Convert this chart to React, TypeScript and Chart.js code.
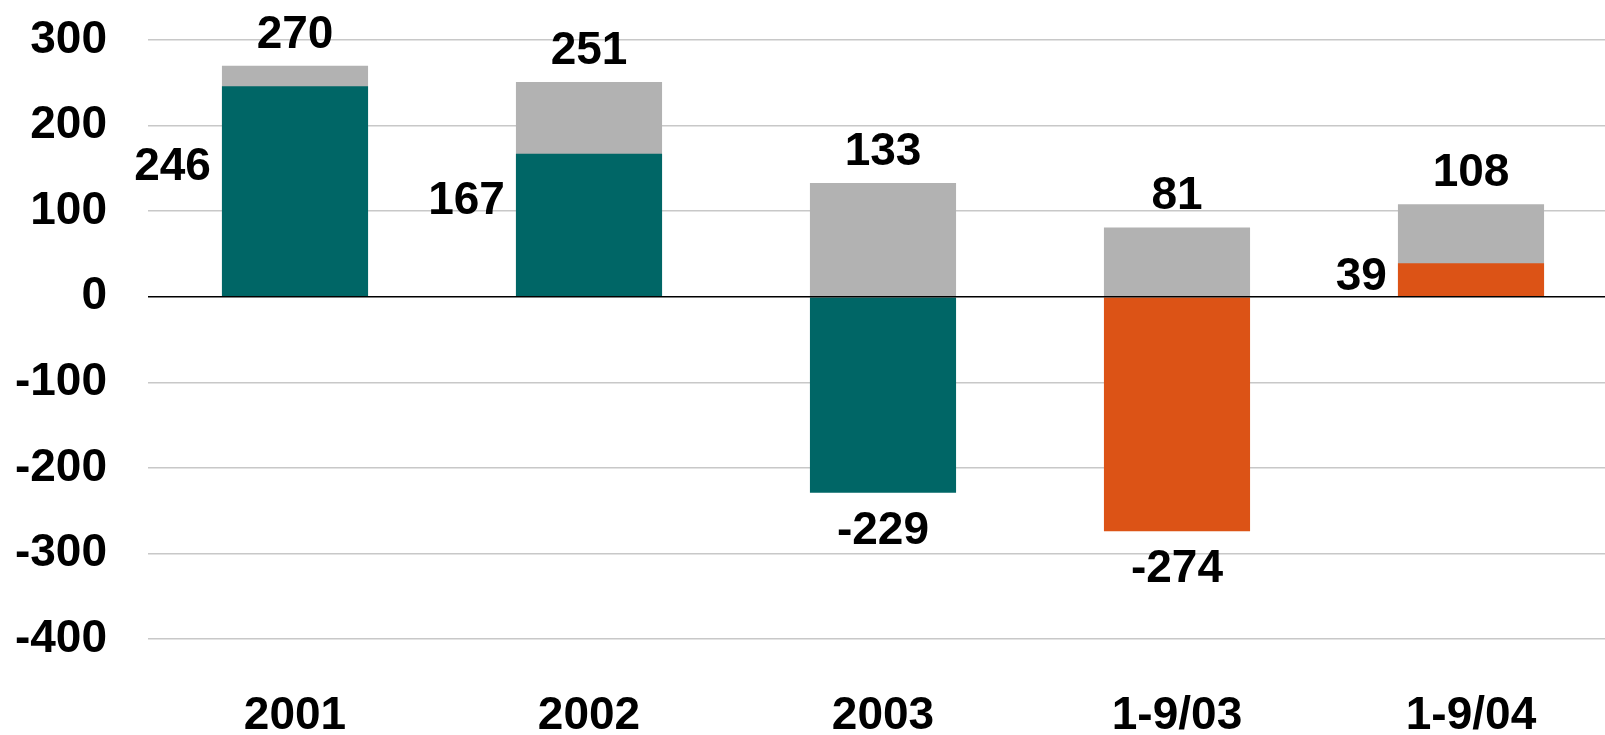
import React, { useEffect, useRef } from "react";
import { Chart, registerables } from "chart.js";

Chart.register(...registerables);

const categories = ["2001", "2002", "2003", "1-9/03", "1-9/04"];
const grayValues = [270, 251, 133, 81, 108];
const colorValues = [246, 167, -229, -274, 39];
const colorBarColors = ["#006666", "#006666", "#006666", "#DC5316", "#DC5316"];
const yTicks = [300, 200, 100, 0, -100, -200, -300, -400];

const FONT = '"Liberation Sans", Arial, sans-serif';
const FS = 46;

const labelPlugin = {
  id: "valueLabels",
  afterDatasetsDraw(chart: any) {
    const ctx = chart.ctx;
    const yScale = chart.scales.y;
    const area = chart.chartArea;
    const zeroY = yScale.getPixelForValue(0);
    ctx.save();
    ctx.strokeStyle = "#000000";
    ctx.lineWidth = 1.5;
    ctx.beginPath();
    ctx.moveTo(area.left, zeroY);
    ctx.lineTo(area.right, zeroY);
    ctx.stroke();

    ctx.font = `bold ${FS}px ${FONT}`;
    ctx.fillStyle = "#000000";
    ctx.textBaseline = "alphabetic";
    const cap = FS * 0.716;

    chart.data.datasets.forEach((ds: any, di: number) => {
      const meta = chart.getDatasetMeta(di);
      meta.data.forEach((bar: any, i: number) => {
        const v = ds.data[i];
        const text = String(v);
        const left = bar.x - bar.width / 2;
        if (ds.label === "gray") {
          ctx.textAlign = "center";
          ctx.fillText(text, bar.x, bar.y - 18);
        } else if (v < 0) {
          ctx.textAlign = "center";
          ctx.fillText(text, bar.x, bar.y + 18 + cap);
        } else {
          const h = zeroY - bar.y;
          const center = (zeroY + bar.y) / 2 - Math.min(28, h * 0.2);
          ctx.textAlign = "right";
          ctx.fillText(text, left - 11, center + cap / 2);
        }
      });
    });
    ctx.restore();
  },
};

export default function App() {
  const ref = useRef<HTMLCanvasElement>(null);
  useEffect(() => {
    if (!ref.current) return;
    const chart = new Chart(ref.current, {
      type: "bar",
      data: {
        labels: categories,
        datasets: [
          {
            label: "color",
            data: colorValues,
            backgroundColor: colorBarColors,
            order: 0,
            grouped: false,
            categoryPercentage: 1,
            barPercentage: 0.497,
          } as any,
          {
            label: "gray",
            data: grayValues,
            backgroundColor: "#B2B2B2",
            order: 1,
            grouped: false,
            categoryPercentage: 1,
            barPercentage: 0.497,
          } as any,
        ],
      },
      options: {
        responsive: false,
        animation: false,
        layout: { padding: { top: 40, left: 0, right: 0, bottom: 0 } },
        plugins: {
          legend: { display: false },
          tooltip: { enabled: false },
        },
        scales: {
          x: {
            grid: { display: false, drawTicks: false },
            border: { display: false },
            ticks: {
              color: "#000",
              font: { family: FONT, size: FS, weight: "bold" },
              padding: 50,
              maxRotation: 0,
            },
            afterFit(scale: any) {
              scale.height = 96;
              scale.paddingLeft = 0;
              scale.paddingRight = 0;
            },
          },
          y: {
            min: -400,
            max: 300,
            afterBuildTicks(scale: any) {
              scale.ticks = yTicks.map((v) => ({ value: v }));
            },
            grid: {
              color: (c: any) => (c.tick && c.tick.value === 0 ? "rgba(0,0,0,0)" : "#c8c8c8"),
              lineWidth: 1.5,
              drawTicks: false,
            },
            border: { display: false },
            ticks: {
              color: "#000",
              font: { family: FONT, size: FS, weight: "bold" },
              padding: 41,
            },
            afterFit(scale: any) {
              scale.width = 148;
              scale.paddingTop = 0;
              scale.paddingBottom = 0;
            },
          },
        },
      },
      plugins: [labelPlugin],
    });
    return () => chart.destroy();
  }, []);

  return (
    <div style={{ position: "fixed", left: 0, top: 0, width: 1605, height: 735, overflow: "hidden", background: "#fff" }}>
      <canvas ref={ref} width={1618} height={735} style={{ display: "block" }} />
    </div>
  );
}
